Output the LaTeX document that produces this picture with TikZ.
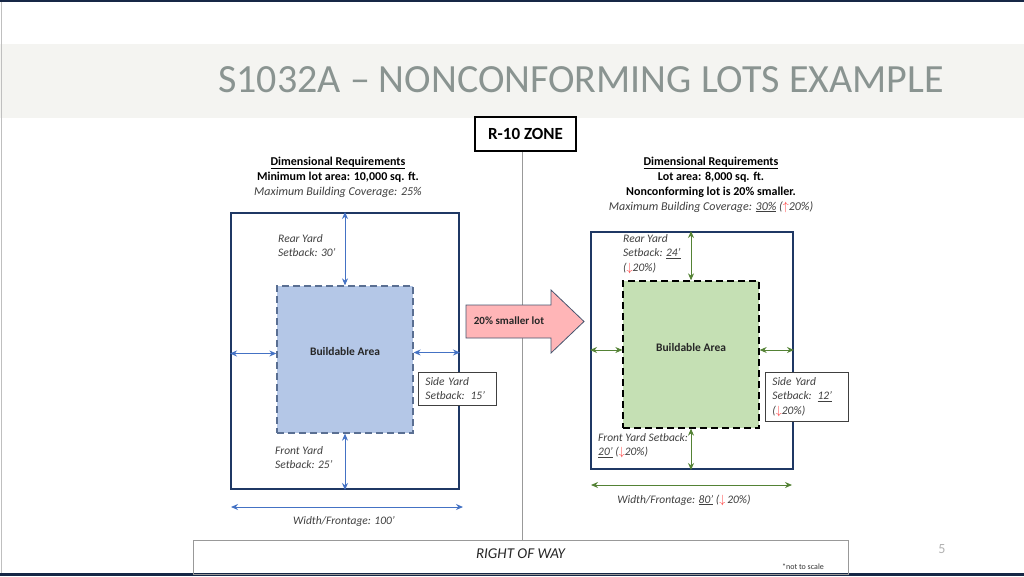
\documentclass[tikz,border=0pt]{standalone}
\usepackage{fontspec}
\setmainfont{Carlito}
\usetikzlibrary{positioning,calc,arrows.meta}

\definecolor{lotnavy}{HTML}{1F3864}
\definecolor{bluefill}{HTML}{B4C7E7}
\definecolor{blueedge}{HTML}{5A6F92}
\definecolor{bluedim}{HTML}{4472C4}
\definecolor{greenfill}{HTML}{C5E0B4}
\definecolor{greendim}{HTML}{548235}
\definecolor{pinkfill}{HTML}{FFB5B7}
\definecolor{labelgray}{HTML}{404040}
\definecolor{titlegray}{HTML}{8A9491}
\definecolor{bandgray}{HTML}{F4F4F1}
\definecolor{arrred}{HTML}{FF3B3B}

\newcommand{\dnarr}{\textcolor{arrred}{$\downarrow$}}
\newcommand{\uparr}{\textcolor{arrred}{$\uparrow$}}

\tikzset{
  lotbox/.style={draw=lotnavy, line width=2pt},
  buildblue/.style={draw=blueedge, fill=bluefill, dash pattern=on 7pt off 4pt, line width=1.3pt},
  buildgreen/.style={draw=black, fill=greenfill, dash pattern=on 7pt off 4pt, line width=1.3pt},
  buildtext/.style={font=\fontsize{11.5}{13}\selectfont\bfseries, text=black!85},
  dimblue/.style={draw=bluedim, line width=1pt, {Stealth[length=7pt,width=6pt]}-{Stealth[length=7pt,width=6pt]}},
  dimgreen/.style={draw=greendim, line width=1pt, {Stealth[length=7pt,width=6pt]}-{Stealth[length=7pt,width=6pt]}},
  yardlabel/.style={anchor=north west, align=left, inner sep=0pt, text=labelgray, font=\fontsize{11.5}{14.5}\selectfont\itshape},
  notebox/.style={draw=labelgray, line width=0.8pt, fill=white, anchor=north west, align=left, inner xsep=7pt, inner ysep=5pt, text=labelgray, font=\fontsize{11.5}{14.5}\selectfont\itshape},
  reqtext/.style={align=center, inner sep=0pt, font=\fontsize{12}{15}\selectfont},
}

\begin{document}
\begin{tikzpicture}[x=1pt,y=-1pt]
		\useasboundingbox (0,0) rectangle (1024,576);
		% slide background
		\fill[white] (0,0) rectangle (1024,576);
		\fill[bandgray] (0,44) rectangle (1024,118);
		\fill[lotnavy!70!black] (0,0) rectangle (1024,2);
		\fill[lotnavy!70!black] (0,573) rectangle (1024,576);
		\draw[gray!50, line width=0.8pt] (1,2) -- (1,573);
		\node[text=titlegray, font=\fontsize{40}{44}\selectfont] (title) at (581,80) {S1032A -- NONCONFORMING LOTS EXAMPLE};

		% zone and right of way
		\node[draw=black, line width=2.5pt, minimum width=101pt, minimum height=34pt, font=\fontsize{17}{19}\selectfont\bfseries] (zone) at (525.5,134) {R-10 ZONE};
		\node[draw=gray!80, line width=0.8pt, minimum width=655pt, minimum height=34pt] (row) at (520.5,557) {};
		\node[font=\fontsize{15}{17}\selectfont\itshape, text=black!85] (rowtxt) at (520.5,554) {RIGHT OF WAY};
		\node[font=\fontsize{8}{9}\selectfont, text=black!80, anchor=west, inner sep=0pt] (scale) at (782,567) {*not to scale};
		\draw[gray!80, line width=1pt] ([xshift=-3.5pt]zone.south) -- ([xshift=-3.5pt]zone.south |- row.north);
		\node[text=gray!60, font=\fontsize{14}{16}\selectfont] (page) at (942,549) {5};

		% required lot
		\node[reqtext] (reqA) at (338,177) {\textbf{\underline{Dimensional Requirements}}\\ \textbf{Minimum lot area: 10,000 sq. ft.}\\ \textcolor{labelgray}{\itshape Maximum Building Coverage: 25\%}};
		\node[lotbox, minimum width=228pt, minimum height=276pt] (lotA) at (345,351) {};
		\node[buildblue, minimum width=136pt, minimum height=147pt] (bldA) at (345,359.5) {};
		\node[buildtext] (bldAtxt) at ([yshift=8pt]bldA.center) {Buildable Area};
		\draw[dimblue] (bldA.north) -- (bldA.north |- lotA.north);
		\draw[dimblue] (bldA.south) -- (bldA.south |- lotA.south);
		\draw[dimblue] ([yshift=6pt]bldA.west) -- ([yshift=6pt]bldA.west -| lotA.west);
		\draw[dimblue] ([yshift=7pt]bldA.east) -- ([yshift=7pt]bldA.east -| lotA.east);
		\coordinate (wA1) at (231,507);
		\coordinate (wA2) at (463,507);
		\draw[dimblue] (wA1) -- (wA2);
		\node[yardlabel] (rearA) at (278,234) {Rear Yard\\ Setback: 30’};
		\node[yardlabel] (frontA) at (275,446) {Front Yard\\ Setback: 25’};
		\node[notebox, text width=64pt] (sideA) at (418,372) {Side Yard\\ Setback: 15’};
		\node[yardlabel, anchor=center] (widthA) at (344,521) {Width/Frontage: 100’};

		% smaller lot arrow
		\fill[pinkfill, draw=lotnavy!60!gray, line width=0.8pt] (466,305) -- (551,305) -- (551,290) -- (584,321.5) -- (551,353) -- (551,338) -- (466,338) -- cycle;
		\node[font=\fontsize{11}{13}\selectfont\bfseries, text=black!85] (shrink) at (509,320.5) {20\% smaller lot};

		% nonconforming lot
		\node[reqtext] (reqB) at (711,184.5) {\textbf{\underline{Dimensional Requirements}}\\ \textbf{Lot area: 8,000 sq. ft.}\\ \textbf{Nonconforming lot is 20\% smaller.}\\ \textcolor{labelgray}{\itshape Maximum Building Coverage: \underline{30\%} (\uparr20\%)}};
		\node[lotbox, minimum width=202pt, minimum height=237pt] (lotB) at (692,350.5) {};
		\node[buildgreen, minimum width=136pt, minimum height=147pt] (bldB) at (691,354.5) {};
		\node[buildtext] (bldBtxt) at ([yshift=7pt]bldB.center) {Buildable Area};
		\draw[dimgreen] (bldB.north) -- (bldB.north |- lotB.north);
		\draw[dimgreen] (bldB.south) -- (bldB.south |- lotB.south);
		\draw[dimgreen] ([yshift=4.5pt]bldB.west) -- ([yshift=4.5pt]bldB.west -| lotB.west);
		\draw[dimgreen] ([yshift=4.5pt]bldB.east) -- ([yshift=4.5pt]bldB.east -| lotB.east);
		\coordinate (wB1) at (591,485);
		\coordinate (wB2) at (792,485);
		\draw[dimgreen] (wB1) -- (wB2);
		\node[yardlabel] (rearB) at (623,234) {Rear Yard\\ Setback: \underline{24’}\\ (\dnarr20\%)};
		\node[yardlabel] (frontB) at (598,433) {Front Yard Setback:\\ \underline{20’} (\dnarr20\%)};
		\node[notebox, text width=69pt] (sideB) at (765,372) {Side Yard\\ Setback: \underline{12’}\\ (\dnarr20\%)};
		\node[yardlabel, anchor=center] (widthB) at (684,500) {Width/Frontage: \underline{80’} (\dnarr\,20\%)};
	\end{tikzpicture}
\end{document}
